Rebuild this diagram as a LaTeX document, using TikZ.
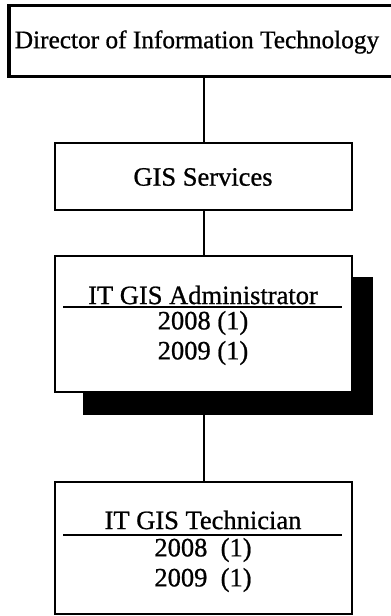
\documentclass[tikz,border=0pt]{standalone}
\usepackage{fontspec}
\setmainfont{Liberation Serif}
\newfontfamily\scanfont[FakeBold=0.8]{Liberation Serif}
\begin{document}
\begin{tikzpicture}[x=1pt,y=-1pt,
  box/.style={draw=black, line width=1.8pt, fill=white, rectangle, inner sep=0pt},
  lbl/.style={font=\scanfont\fontsize{26.5}{30}\selectfont, inner sep=0pt},
  conn/.style={line width=2pt},
  rule/.style={line width=1.6pt},
  shadowfill/.style={fill=black}]
\useasboundingbox (0,0) rectangle (391,616);
\fill[white] (0,0) rectangle (391,616);
% boxes
\node[box, line width=3.5pt, minimum width=384pt, minimum height=71pt] (dir) at (201,41) {};
\node[box, minimum width=297pt, minimum height=67pt] (gis) at (203.5,176.5) {};
\fill[shadowfill] (83,277) rectangle (373,415);
\node[box, minimum width=297pt, minimum height=136pt] (adm) at (203.5,324) {};
\node[box, minimum width=297pt, minimum height=132pt] (tech) at (203.5,548) {};
% connectors
\draw[conn] (dir.south -| gis.north) -- (gis.north);
\draw[conn] (gis.south) -- (adm.north);
\draw[conn] (adm.south) -- (tech.north);
% texts
\node[lbl, font=\scanfont\fontsize{25.3}{30}\selectfont] (dirt) at (197,42) {Director of Information Technology};
\node[lbl] (gist) at (203,177) {GIS Services};
\node[lbl] (admt) at (203,295) {IT GIS Administrator};
\node[lbl] (adma) at (203,323) {2008 (1)};
\node[lbl] (admb) at (203,353) {2009 (1)};
\node[lbl] (techt) at (203,520) {IT GIS Technician};
\node[lbl] (techa) at (203,550) {2008\ \ (1)};
\node[lbl] (techb) at (203,580) {2009\ \ (1)};
% rules under titles
\coordinate (r1a) at (63,307); \coordinate (r1b) at (342,307);
\coordinate (r2a) at (63,535); \coordinate (r2b) at (342,535);
\draw[rule] (r1a) -- (r1b);
\draw[rule] (r2a) -- (r2b);
\end{tikzpicture}
\end{document}
